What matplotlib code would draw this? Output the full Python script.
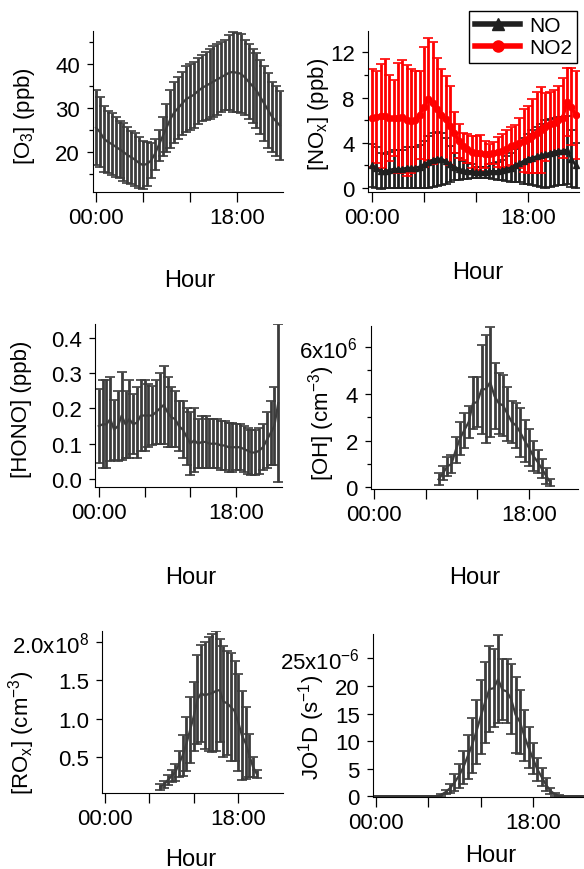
import numpy as np
import matplotlib
matplotlib.use("Agg")
import matplotlib.pyplot as plt

plt.rcParams['font.family'] = ['Liberation Sans', 'DejaVu Sans']
plt.rcParams['mathtext.fontset'] = 'custom'
plt.rcParams['mathtext.rm'] = 'Liberation Sans'
plt.rcParams['mathtext.it'] = 'Liberation Sans:italic'
plt.rcParams['mathtext.default'] = 'regular'

# half-hourly diurnal bins, 00:00 .. 23:30
hours = np.arange(0, 24, 0.5)
day_hours = hours[15:42]  # 07:30 .. 20:30 (OH, ROx only measured in daytime)

o3_mean = [25.5, 24.5, 23.0, 22.3, 21.8, 21.2, 20.6, 20.0, 19.3, 18.8, 18.2, 17.5,
           17.0, 17.3, 18.0, 19.5, 21.5, 23.5, 25.5, 27.5, 29.0, 30.0, 31.0, 32.0,
           32.5, 33.0, 33.8, 34.5, 35.0, 35.5, 36.0, 36.5, 37.0, 37.5, 38.0, 38.2,
           38.0, 37.8, 37.0, 36.0, 35.0, 34.0, 32.5, 31.0, 29.5, 28.0, 27.0, 26.0]
o3_sd = [8.5, 8.0, 7.5, 7.0, 7.0, 6.8, 6.5, 6.5, 6.3, 6.0, 6.0, 5.8,
         5.5, 5.0, 4.0, 3.5, 3.5, 4.5, 5.5, 6.5, 7.0, 7.0, 7.2, 7.5,
         7.5, 7.5, 7.5, 7.5, 7.8, 8.0, 8.0, 8.0, 8.0, 8.0, 8.5, 9.0,
         9.0, 9.0, 8.5, 8.5, 8.5, 8.5, 8.5, 8.5, 8.5, 8.0, 8.0, 7.8]

no_mean = [2.0, 1.8, 1.5, 1.5, 1.6, 1.7, 1.7, 1.7, 1.8, 1.8, 1.8, 1.9,
           2.1, 2.3, 2.5, 2.6, 2.6, 2.4, 2.1, 1.9, 1.7, 1.6, 1.5, 1.5,
           1.4, 1.4, 1.4, 1.5, 1.5, 1.5, 1.6, 1.7, 1.8, 2.0, 2.2, 2.4,
           2.6, 2.7, 2.8, 2.9, 3.0, 3.1, 3.2, 3.3, 3.3, 3.4, 2.6, 2.0]
no_sd = [1.9, 1.8, 1.6, 1.5, 1.6, 1.7, 1.7, 1.7, 1.8, 1.8, 1.8, 1.9,
         2.1, 2.3, 2.4, 2.4, 2.3, 2.0, 1.6, 1.2, 1.0, 0.8, 0.7, 0.6,
         0.5, 0.5, 0.5, 0.6, 0.7, 0.8, 0.9, 1.1, 1.3, 1.5, 1.7, 2.0,
         2.2, 2.4, 2.6, 2.8, 3.0, 3.0, 3.0, 3.0, 3.0, 3.0, 2.5, 2.0]
no2_mean = [6.2, 6.3, 6.4, 6.4, 6.2, 6.2, 6.2, 6.3, 6.0, 5.9, 6.0, 6.5,
            7.2, 7.9, 7.5, 7.0, 6.5, 6.1, 5.5, 4.9, 4.2, 3.7, 3.5, 3.2,
            3.1, 3.1, 3.0, 3.0, 3.1, 3.2, 3.3, 3.5, 3.7, 3.8, 4.0, 4.2,
            4.3, 4.6, 4.9, 5.1, 5.4, 5.7, 5.8, 6.0, 6.2, 7.6, 7.2, 6.5]
no2_sd = [4.3, 4.1, 4.6, 5.0, 3.8, 3.4, 4.9, 5.0, 4.9, 4.6, 4.4, 3.9,
          5.3, 5.4, 5.4, 4.5, 4.0, 3.8, 3.5, 1.8, 1.5, 1.2, 1.3, 1.4,
          1.5, 1.6, 1.2, 0.9, 1.0, 1.3, 1.5, 1.6, 1.7, 1.8, 2.2, 2.8,
          3.0, 3.3, 3.6, 3.8, 3.0, 2.8, 2.9, 3.0, 3.5, 3.0, 3.4, 3.9]

hono_mean = [0.15, 0.155, 0.155, 0.17, 0.14, 0.15, 0.18, 0.155, 0.17, 0.155, 0.16, 0.18,
             0.18, 0.18, 0.18, 0.19, 0.20, 0.21, 0.19, 0.175, 0.17, 0.15, 0.14, 0.12,
             0.10, 0.11, 0.10, 0.105, 0.105, 0.10, 0.10, 0.10, 0.095, 0.095, 0.09, 0.09,
             0.09, 0.09, 0.085, 0.08, 0.075, 0.075, 0.08, 0.09, 0.11, 0.13, 0.15, 0.215]
hono_sd = [0.105, 0.125, 0.125, 0.12, 0.085, 0.10, 0.125, 0.095, 0.11, 0.085, 0.10, 0.10,
           0.10, 0.09, 0.085, 0.09, 0.10, 0.11, 0.10, 0.085, 0.08, 0.07, 0.08, 0.08,
           0.09, 0.09, 0.07, 0.075, 0.075, 0.07, 0.07, 0.07, 0.07, 0.07, 0.07, 0.07,
           0.065, 0.065, 0.065, 0.065, 0.065, 0.065, 0.065, 0.065, 0.08, 0.09, 0.11, 0.225]

# OH in 1e6 cm-3, 07:30 .. 20:30
oh_mean = [0.35, 0.6, 0.9, 1.0, 1.6, 2.1, 2.45, 2.8, 3.6, 3.65, 4.2, 4.2, 4.5, 3.9,
           3.6, 3.5, 3.15, 2.8, 2.65, 2.35, 2.0, 1.7, 1.35, 1.1, 0.8, 0.5, 0.2]
oh_sd = [0.25, 0.3, 0.4, 0.4, 0.55, 0.7, 0.75, 0.7, 1.1, 1.05, 1.9, 2.3, 2.35, 1.4,
         1.3, 1.3, 1.15, 0.9, 0.95, 1.05, 0.9, 0.8, 0.65, 0.5, 0.4, 0.35, 0.15]

# ROx in 1e8 cm-3, 07:30 .. 20:30
rox_mean = [0.11, 0.14, 0.2, 0.25, 0.3, 0.41, 0.52, 0.67, 0.85, 1.03, 1.25, 1.33, 1.3, 1.32,
            1.33, 1.36, 1.37, 1.22, 1.2, 1.15, 1.1, 0.95, 0.78, 0.68, 0.52, 0.37, 0.28]
rox_sd = [0.04, 0.05, 0.06, 0.08, 0.11, 0.17, 0.27, 0.35, 0.43, 0.45, 0.58, 0.63, 0.7, 0.74,
          0.77, 0.78, 0.67, 0.72, 0.68, 0.7, 0.65, 0.63, 0.58, 0.47, 0.28, 0.13, 0.05]

# J(O1D) in 1e-6 s-1
jo1d_mean = [0, 0, 0, 0, 0, 0, 0, 0, 0, 0, 0, 0, 0, 0, 0,
             0.3, 0.8, 1.5, 2.5, 3.7, 5.2, 7.2, 9.2, 11.7, 14.4, 17.0, 19.4, 19.6, 21.2,
             19.3, 19.0, 17.6, 14.8, 13.5, 11.0, 8.8, 6.8, 4.9, 3.5, 2.1, 1.0, 0.4, 0.1,
             0, 0, 0, 0, 0]
jo1d_sd = [0, 0, 0, 0, 0, 0, 0, 0, 0, 0, 0, 0, 0, 0, 0,
           0.15, 0.4, 0.8, 1.5, 2.2, 3.0, 4.0, 5.0, 5.8, 6.7, 7.3, 7.8, 7.0, 8.0,
           5.5, 5.8, 6.3, 6.9, 5.8, 4.6, 3.7, 2.8, 2.1, 1.6, 1.2, 0.6, 0.3, 0.1,
           0, 0, 0, 0, 0]

gray = '#3c3c3c'
red = '#ff0000'
W, H = 584, 870

fig = plt.figure(figsize=(W / 100, H / 100), dpi=100)


def px_axes(left, top, right, bottom):
    return fig.add_axes([left / W, 1 - bottom / H, (right - left) / W, (bottom - top) / H])


def errplot(ax, x, m, s, color, **kw):
    return ax.errorbar(x, m, yerr=s, color=color, ecolor=color, lw=1.6,
                       elinewidth=2.0, capsize=3.8, capthick=1.2, **kw)


def style(ax, xlim, ylim, yticks, yticklabels, yminor, ylabel, ylab_xy, xlab_xy):
    ax.set_xlim(*xlim)
    ax.set_ylim(*ylim)
    ax.spines['top'].set_visible(False)
    ax.spines['right'].set_visible(False)
    ax.set_xticks([0, 6, 12, 18])
    ax.set_xticklabels(['00:00', '', '', '18:00'])
    ax.set_yticks(yticks)
    ax.set_yticklabels(yticklabels)
    if yminor is not None:
        ax.set_yticks(yminor, minor=True)
    ax.tick_params(axis='x', direction='out', length=7, width=0.9, pad=4, labelsize=16)
    ax.tick_params(axis='y', which='major', direction='out', length=4.5, width=0.9, pad=5, labelsize=16)
    ax.tick_params(axis='y', which='minor', direction='out', length=3, width=0.9)
    ax.set_ylabel(ylabel, fontsize=16)
    ax.yaxis.set_label_coords(*ylab_xy)
    ax.set_xlabel('Hour', fontsize=17)
    ax.xaxis.set_label_coords(*xlab_xy)


# O3
ax1 = px_axes(93, 32, 283, 193)
errplot(ax1, hours, o3_mean, o3_sd, gray)
style(ax1, (-0.4, 23.9), (10.9, 47.5), [20, 30, 40], ['20', '30', '40'], [15, 25, 35, 45],
      '[O$_3$] (ppb)', (-0.295, 0.48), (0.51, -0.478))

# NOx
ax2 = px_axes(368, 32, 579, 193)
eb_no = errplot(ax2, hours, no_mean, no_sd, '#202020', marker='^', ms=4)
eb_no2 = errplot(ax2, hours, no2_mean, no2_sd, red, marker='o', ms=4.5)
eb_no2.lines[0].set_linewidth(2.4)
style(ax2, (-0.46, 23.9), (-0.35, 13.9), [0, 4, 8, 12], ['0', '4', '8', '12'], [2, 6, 10],
      '[NO$_\\mathrm{x}$] (ppb)', (-0.175, 0.49), (0.52, -0.43))
leg = fig.legend([eb_no.lines[0], eb_no2.lines[0]], ['NO', 'NO2'], loc='upper right',
                 bbox_to_anchor=(577 / W, 1 - 12 / H), fontsize=15, frameon=True,
                 fancybox=False, edgecolor='black', framealpha=1, borderpad=0.25,
                 handlelength=2.2, handletextpad=0.4, labelspacing=0.15, borderaxespad=0)
leg.get_frame().set_linewidth(1.0)
for ln in leg.get_lines():
    ln.set_linewidth(4)
    ln.set_markersize(8)

# HONO
ax3 = px_axes(95, 325, 282, 488)
errplot(ax3, hours, hono_mean, hono_sd, gray)
style(ax3, (-0.5, 24.0), (-0.023, 0.44), [0.0, 0.1, 0.2, 0.3, 0.4],
      ['0.0', '0.1', '0.2', '0.3', '0.4'], None,
      '[HONO] (ppb)', (-0.337, 0.48), (0.51, -0.485))

# OH
ax4 = px_axes(371, 327, 578, 490)
errplot(ax4, day_hours, oh_mean, oh_sd, gray)
style(ax4, (-0.35, 23.7), (-0.065, 6.9), [0, 2, 4, 6], ['0', '2', '4', '6x10$^6$'], [1, 3, 5],
      '[OH] (cm$^{-3}$)', (-0.164, 0.41), (0.50, -0.47))

# ROx
ax5 = px_axes(102, 632, 283, 794)
errplot(ax5, day_hours, rox_mean, rox_sd, gray)
style(ax5, (-0.4, 24.05), (0.03, 2.14), [0.5, 1.0, 1.5, 2.0],
      ['0.5', '1.0', '1.5', '2.0x10$^8$'], None,
      '[RO$_\\mathrm{x}$] (cm$^{-3}$)', (-0.36, 0.38), (0.49, -0.34))

# J(O1D)
ax6 = px_axes(373, 635, 584, 798)
errplot(ax6, hours, jo1d_mean, jo1d_sd, gray)
style(ax6, (-0.34, 23.85), (-0.11, 29.4), [0, 5, 10, 15, 20, 25],
      ['0', '5', '10', '15', '20', '25x10$^{-6}$'], None,
      'JO$^1$D (s$^{-1}$)', (-0.22, 0.435), (0.56, -0.29))

fig.savefig('out.png', dpi=100)
